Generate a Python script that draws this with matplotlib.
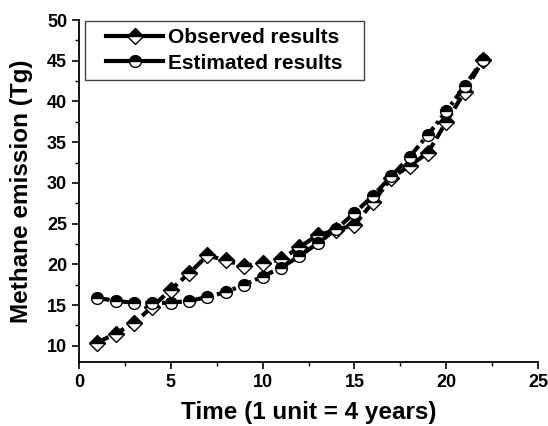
import matplotlib
matplotlib.use("Agg")
import matplotlib.pyplot as plt
from matplotlib.lines import Line2D
from matplotlib.legend_handler import HandlerLine2D
from matplotlib.ticker import MultipleLocator

plt.rcParams['font.family'] = ['Liberation Sans', 'DejaVu Sans']
plt.rcParams['font.weight'] = 'bold'

time = list(range(1, 23))
observed = [10.4, 11.5, 12.8, 14.8, 16.9, 18.9, 21.1, 20.5, 19.8, 20.2, 20.6, 22.1,
            23.6, 24.2, 24.85, 27.6, 30.6, 32.1, 33.7, 37.5, 41.2, 45.1]
estimated = [15.9, 15.5, 15.3, 15.25, 15.3, 15.5, 16.0, 16.6, 17.5, 18.5, 19.6, 21.0,
             22.6, 24.3, 26.3, 28.4, 30.8, 33.2, 35.9, 38.8, 41.9, 45.1]
series_labels = ["Observed results", "Estimated results"]

fig = plt.figure(figsize=(5.48, 4.26), dpi=100)
ax = fig.add_axes([0.144, 0.150, 0.838, 0.803])

ax.plot(time, observed, linestyle=(0, (3.0, 1.2)), color='black', linewidth=3.0,
        marker='D', markersize=7.8, fillstyle='top', markerfacecolor='black',
        markerfacecoloralt='white', markeredgecolor='black', markeredgewidth=1.0)
ax.plot(time, estimated, linestyle=(0, (3.0, 1.0, 0.8, 1.0)), color='black', linewidth=3.0,
        marker='o', markersize=8.5, fillstyle='top', markerfacecolor='black',
        markerfacecoloralt='white', markeredgecolor='black', markeredgewidth=1.0)

ax.set_xlim(0, 25)
ax.set_ylim(8, 50)
ax.xaxis.set_major_locator(MultipleLocator(5))
ax.xaxis.set_minor_locator(MultipleLocator(2.5))
ax.yaxis.set_minor_locator(MultipleLocator(2.5))
ax.set_yticks([10, 15, 20, 25, 30, 35, 40, 45, 50])
ax.spines['top'].set_visible(False)
ax.spines['right'].set_visible(False)
for s in ['left', 'bottom']:
    ax.spines[s].set_linewidth(1.3)
ax.tick_params(which='major', direction='out', length=5, width=1.2, labelsize=13)
ax.tick_params(which='minor', direction='out', length=3, width=1.0)
for lab in ax.get_xticklabels() + ax.get_yticklabels():
    lab.set_fontweight('bold')

ax.set_xlabel("Time (1 unit = 4 years)", fontsize=17.5, fontweight='bold', labelpad=7)
ax.set_ylabel("Methane emission (Tg)", fontsize=17.5, fontweight='bold', labelpad=10)

handles = [
    Line2D([], [], color='black', linewidth=3.0, marker='D', markersize=7.8, fillstyle='top',
           markerfacecolor='black', markerfacecoloralt='white', markeredgecolor='black'),
    Line2D([], [], color='black', linewidth=3.0, marker='o', markersize=8.5, fillstyle='top',
           markerfacecolor='black', markerfacecoloralt='white', markeredgecolor='black'),
]
leg = ax.legend(handles, series_labels, loc='upper left',
                bbox_to_anchor=(0.013, 0.0, 0.608, 0.997), mode='expand',
                fancybox=False, edgecolor='#444444', framealpha=1,
                prop={'weight': 'bold', 'size': 15}, handlelength=3.4,
                handler_map={Line2D: HandlerLine2D(xpad=0.67)},
                borderpad=0.35, labelspacing=0.3, handletextpad=0.25, borderaxespad=0.0)
leg.get_frame().set_linewidth(1.0)

fig.savefig("out.png", dpi=100)
